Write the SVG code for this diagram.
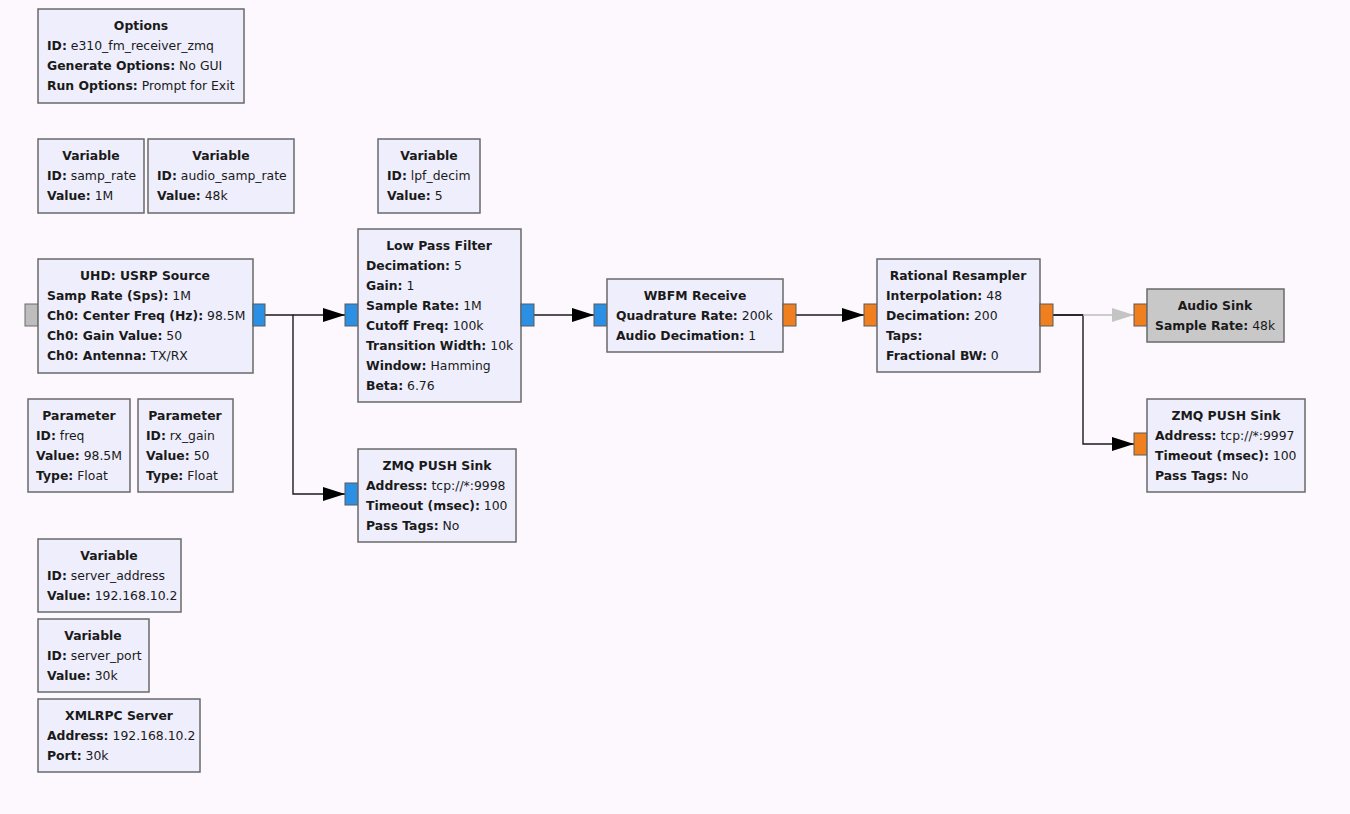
<svg xmlns="http://www.w3.org/2000/svg" width="1350" height="814" viewBox="0 0 1350 814">
<style>
.bg{fill:#fdf8fd}
.blk{fill:#eeeefc;stroke:#6a6a6a;stroke-width:1.5}
.dis{fill:#c8c8c8;stroke:#6a6a6a;stroke-width:1.5}
.pb{fill:#2b8fe3;stroke:#5a5a5a;stroke-width:1}
.po{fill:#f07f1f;stroke:#5a5a5a;stroke-width:1}
.pg{fill:#bdbdbd;stroke:#6a6a6a;stroke-width:1}
text{font-family:"DejaVu Sans",Verdana,sans-serif;font-size:12.4px;fill:#1a1a1a}
.t{font-weight:bold;text-anchor:middle}
.b{font-weight:bold}
.w{fill:none;stroke:#1a1a1a;stroke-width:1.4}
.wg{fill:none;stroke:#bdbdbd;stroke-width:1.4}
</style>
<defs>
<marker id="ah" markerUnits="userSpaceOnUse" markerWidth="22" markerHeight="14" refX="22" refY="7" orient="auto"><path d="M0,0 L22,7 L0,14 Z" fill="#000"/></marker>
<marker id="ahg" markerUnits="userSpaceOnUse" markerWidth="22" markerHeight="14" refX="22" refY="7" orient="auto"><path d="M0,0 L22,7 L0,14 Z" fill="#c4c4c4"/></marker>
</defs>
<rect class="bg" x="0" y="0" width="1350" height="814"/>

<g id="connectors">
<path class="w" d="M265,315 H293 V494 H345" marker-end="url(#ah)"/>
<path class="w" d="M293,315 H345" marker-end="url(#ah)"/>
<path class="w" d="M534,315 H594" marker-end="url(#ah)"/>
<path class="w" d="M796,315 H864" marker-end="url(#ah)"/>
<path class="w" d="M1053,315 H1083 V444 H1134" marker-end="url(#ah)"/>
<path class="wg" d="M1083,315 H1134" marker-end="url(#ahg)"/>
<path class="w" d="M1053,315 H1083"/>
</g>

<g id="options">
<rect class="blk" x="38" y="9" width="206" height="94"/>
<text class="t" x="141" y="30">Options</text>
<text x="47" y="50"><tspan class="b">ID:</tspan> e310_fm_receiver_zmq</text>
<text x="47" y="70"><tspan class="b">Generate Options:</tspan> No GUI</text>
<text x="47" y="90"><tspan class="b">Run Options:</tspan> Prompt for Exit</text>
</g>

<g id="var_samp_rate">
<rect class="blk" x="38" y="139" width="106" height="74"/>
<text class="t" x="91" y="160">Variable</text>
<text x="47" y="180"><tspan class="b">ID:</tspan> samp_rate</text>
<text x="47" y="200"><tspan class="b">Value:</tspan> 1M</text>
</g>

<g id="var_audio_samp_rate">
<rect class="blk" x="148" y="139" width="146" height="74"/>
<text class="t" x="221" y="160">Variable</text>
<text x="157" y="180"><tspan class="b">ID:</tspan> audio_samp_rate</text>
<text x="157" y="200"><tspan class="b">Value:</tspan> 48k</text>
</g>

<g id="var_lpf_decim">
<rect class="blk" x="378" y="139" width="102" height="74"/>
<text class="t" x="429" y="160">Variable</text>
<text x="387" y="180"><tspan class="b">ID:</tspan> lpf_decim</text>
<text x="387" y="200"><tspan class="b">Value:</tspan> 5</text>
</g>

<g id="uhd_usrp_source">
<rect class="pg" x="25" y="304" width="13" height="22"/>
<rect class="blk" x="38" y="259" width="215" height="114"/>
<rect class="pb" x="253" y="304" width="12" height="22"/>
<text class="t" x="145" y="280">UHD: USRP Source</text>
<text x="47" y="300"><tspan class="b">Samp Rate (Sps):</tspan> 1M</text>
<text x="47" y="320"><tspan class="b">Ch0: Center Freq (Hz):</tspan> 98.5M</text>
<text x="47" y="340"><tspan class="b">Ch0: Gain Value:</tspan> 50</text>
<text x="47" y="360"><tspan class="b">Ch0: Antenna:</tspan> TX/RX</text>
</g>

<g id="low_pass_filter">
<rect class="pb" x="345" y="304" width="13" height="22"/>
<rect class="blk" x="358" y="229" width="163" height="173"/>
<rect class="pb" x="521" y="304" width="13" height="22"/>
<text class="t" x="439" y="250">Low Pass Filter</text>
<text x="366" y="270"><tspan class="b">Decimation:</tspan> 5</text>
<text x="366" y="290"><tspan class="b">Gain:</tspan> 1</text>
<text x="366" y="310"><tspan class="b">Sample Rate:</tspan> 1M</text>
<text x="366" y="330"><tspan class="b">Cutoff Freq:</tspan> 100k</text>
<text x="366" y="350"><tspan class="b">Transition Width:</tspan> 10k</text>
<text x="366" y="370"><tspan class="b">Window:</tspan> Hamming</text>
<text x="366" y="390"><tspan class="b">Beta:</tspan> 6.76</text>
</g>

<g id="wbfm_receive">
<rect class="pb" x="594" y="304" width="13" height="22"/>
<rect class="blk" x="607" y="279" width="176" height="73"/>
<rect class="po" x="783" y="304" width="13" height="22"/>
<text class="t" x="695" y="300">WBFM Receive</text>
<text x="616" y="320"><tspan class="b">Quadrature Rate:</tspan> 200k</text>
<text x="616" y="340"><tspan class="b">Audio Decimation:</tspan> 1</text>
</g>

<g id="rational_resampler">
<rect class="po" x="864" y="304" width="13" height="22"/>
<rect class="blk" x="877" y="259" width="163" height="113"/>
<rect class="po" x="1040" y="304" width="13" height="22"/>
<text class="t" x="958" y="280">Rational Resampler</text>
<text x="886" y="300"><tspan class="b">Interpolation:</tspan> 48</text>
<text x="886" y="320"><tspan class="b">Decimation:</tspan> 200</text>
<text x="886" y="340"><tspan class="b">Taps:</tspan></text>
<text x="886" y="360"><tspan class="b">Fractional BW:</tspan> 0</text>
</g>

<g id="audio_sink">
<rect class="po" x="1134" y="304" width="13" height="22"/>
<rect class="dis" x="1147" y="289" width="137" height="53"/>
<text class="t" x="1215" y="310">Audio Sink</text>
<text x="1155" y="330"><tspan class="b">Sample Rate:</tspan> 48k</text>
</g>

<g id="zmq_push_sink_2">
<rect class="po" x="1134" y="433" width="13" height="22"/>
<rect class="blk" x="1147" y="399" width="158" height="93"/>
<text class="t" x="1226" y="420">ZMQ PUSH Sink</text>
<text x="1155" y="440"><tspan class="b">Address:</tspan> tcp://*:9997</text>
<text x="1155" y="460"><tspan class="b">Timeout (msec):</tspan> 100</text>
<text x="1155" y="480"><tspan class="b">Pass Tags:</tspan> No</text>
</g>

<g id="zmq_push_sink_1">
<rect class="pb" x="345" y="483" width="13" height="22"/>
<rect class="blk" x="358" y="449" width="158" height="93"/>
<text class="t" x="437" y="470">ZMQ PUSH Sink</text>
<text x="366" y="490"><tspan class="b">Address:</tspan> tcp://*:9998</text>
<text x="366" y="510"><tspan class="b">Timeout (msec):</tspan> 100</text>
<text x="366" y="530"><tspan class="b">Pass Tags:</tspan> No</text>
</g>

<g id="param_freq">
<rect class="blk" x="28" y="399" width="102" height="93"/>
<text class="t" x="79" y="420">Parameter</text>
<text x="36" y="440"><tspan class="b">ID:</tspan> freq</text>
<text x="36" y="460"><tspan class="b">Value:</tspan> 98.5M</text>
<text x="36" y="480"><tspan class="b">Type:</tspan> Float</text>
</g>

<g id="param_rx_gain">
<rect class="blk" x="138" y="399" width="95" height="93"/>
<text class="t" x="185" y="420">Parameter</text>
<text x="146" y="440"><tspan class="b">ID:</tspan> rx_gain</text>
<text x="146" y="460"><tspan class="b">Value:</tspan> 50</text>
<text x="146" y="480"><tspan class="b">Type:</tspan> Float</text>
</g>

<g id="var_server_address">
<rect class="blk" x="38" y="539" width="143" height="73"/>
<text class="t" x="109" y="560">Variable</text>
<text x="47" y="580"><tspan class="b">ID:</tspan> server_address</text>
<text x="47" y="600"><tspan class="b">Value:</tspan> 192.168.10.2</text>
</g>

<g id="var_server_port">
<rect class="blk" x="38" y="619" width="111" height="73"/>
<text class="t" x="93" y="640">Variable</text>
<text x="47" y="660"><tspan class="b">ID:</tspan> server_port</text>
<text x="47" y="680"><tspan class="b">Value:</tspan> 30k</text>
</g>

<g id="xmlrpc_server">
<rect class="blk" x="38" y="699" width="162" height="73"/>
<text class="t" x="119" y="720">XMLRPC Server</text>
<text x="47" y="740"><tspan class="b">Address:</tspan> 192.168.10.2</text>
<text x="47" y="760"><tspan class="b">Port:</tspan> 30k</text>
</g>
</svg>
